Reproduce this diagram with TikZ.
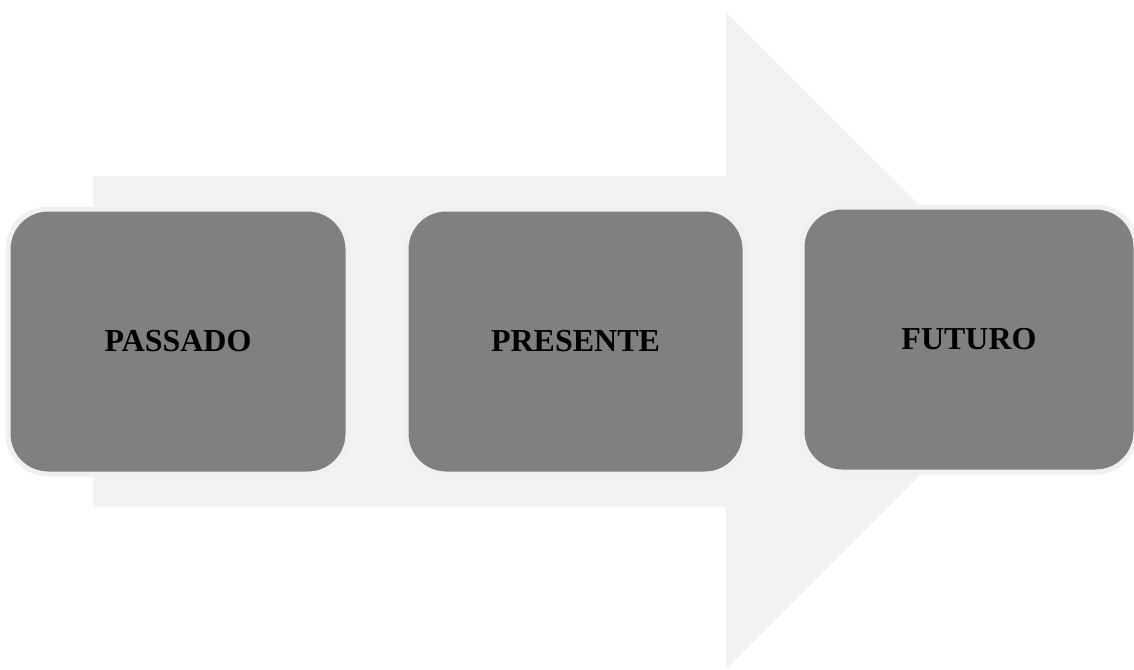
\documentclass[tikz,border=0pt]{standalone}
\usepackage{fontspec}
\setmainfont{Liberation Serif}
\definecolor{arrowgray}{HTML}{F2F2F2}
\definecolor{boxgray}{HTML}{808080}
\definecolor{rimgray}{HTML}{F0F0F0}
\begin{document}
\begin{tikzpicture}[x=1pt,y=-1pt,
  stage/.style={draw=rimgray, line width=5pt, fill=boxgray, rounded corners=40pt,
    minimum height=265pt, inner sep=0pt, text=black,
    font=\fontsize{32}{38}\selectfont\bfseries}]
  \useasboundingbox (0,0) rectangle (1134,669);
  % broad background arrow
  \fill[arrowgray] (93,176) -- (726,176) -- (726,12) -- (1055,340.5)
    -- (726,669) -- (726,507) -- (93,507) -- cycle;
  % the three stages
  \node[stage, minimum width=340pt] (passado)  at (178,341.5)   {PASSADO};
  \node[stage, minimum width=339pt] (presente) at (575.5,341.5) {PRESENTE};
  \node[stage, minimum width=334pt] (futuro)   at (969,339.5)   {FUTURO};
\end{tikzpicture}
\end{document}
